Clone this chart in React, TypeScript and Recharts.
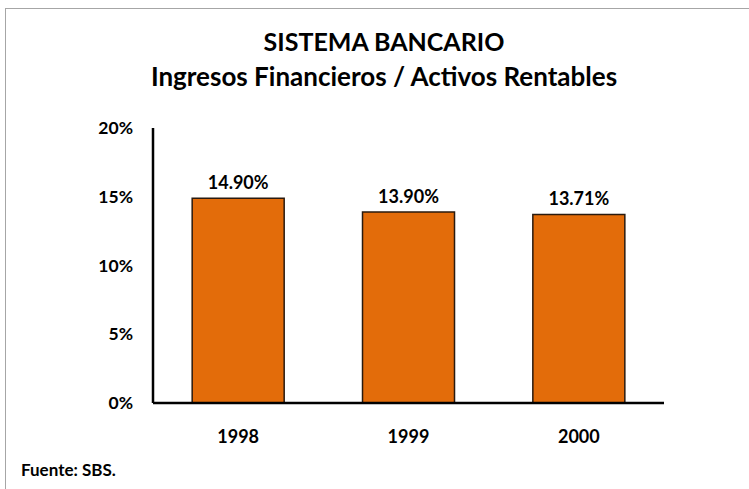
import React from "react";
import { BarChart, Bar, XAxis, YAxis, LabelList } from "recharts";

const years = ["1998", "1999", "2000"];
const ratios = [14.9, 13.9, 13.71];
const yTicks = [0, 5, 10, 15, 20];
const titleLine1 = "SISTEMA BANCARIO";
const titleLine2 = "Ingresos Financieros / Activos Rentables";
const source = "Fuente: SBS.";

const data = years.map((y, i) => ({ year: y, value: ratios[i] }));
const FONT = "Lato, 'Liberation Sans', sans-serif";

export default function App() {
  return (
    <div style={{ position: "fixed", left: 0, top: 0, width: 749, height: 489, overflow: "hidden", background: "#fff", fontFamily: FONT }}>
      <div style={{ position: "absolute", left: 5, top: 8, width: 800, height: 600, border: "1px solid #a6a6a6" }} />
      <div style={{ position: "absolute", left: 0, width: 768, top: 24, textAlign: "center", fontWeight: 700, lineHeight: "35px", color: "#000" }}>
        <div style={{ fontSize: 25 }}>{titleLine1}</div>
        <div style={{ fontSize: 26 }}>{titleLine2}</div>
      </div>
      <div style={{ position: "absolute", left: 21, top: 459, fontWeight: 700, fontSize: 17, color: "#000" }}>{source}</div>
      <div style={{ position: "absolute", left: 0, top: 0 }}>
        <BarChart width={749} height={489} data={data} margin={{ top: 128, right: 85, bottom: 56, left: 93 }} barCategoryGap="23%">
          <XAxis dataKey="year" axisLine={{ stroke: "#000", strokeWidth: 2.5 }} tickLine={false} height={30} tickMargin={21}
            tick={{ fill: "#000", fontWeight: 700, fontSize: 18, fontFamily: FONT }} />
          <YAxis domain={[0, 20]} ticks={yTicks} interval={0} tickFormatter={(v) => `${v}%`} axisLine={{ stroke: "#000", strokeWidth: 2.5 }}
            tickLine={false} width={60} tickMargin={14} tick={{ fill: "#000", fontWeight: 700, fontSize: 17.5, fontFamily: FONT }} />
          <Bar dataKey="value" fill="#E36C0A" stroke="#2a1a0e" strokeWidth={1.5} isAnimationActive={false}>
            <LabelList dataKey="value" position="top" offset={9} formatter={(v) => `${Number(v).toFixed(2)}%`}
              style={{ fill: "#000", fontWeight: 700, fontSize: 18, fontFamily: FONT }} />
          </Bar>
        </BarChart>
      </div>
    </div>
  );
}
